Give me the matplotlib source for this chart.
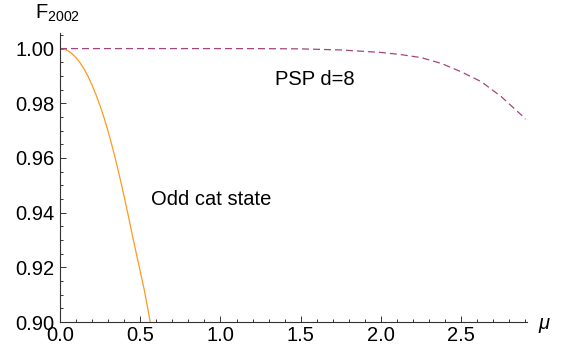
import matplotlib
matplotlib.use('Agg')
import matplotlib.pyplot as plt
from matplotlib.ticker import MultipleLocator, FormatStrFormatter

plt.rcParams['font.family'] = ['Liberation Sans', 'DejaVu Sans']
plt.rcParams['mathtext.fontset'] = 'custom'
plt.rcParams['mathtext.rm'] = 'Liberation Sans'
plt.rcParams['mathtext.it'] = 'Liberation Sans:italic'

# odd cat state fidelity
mu_cat = [0.0, 0.025, 0.05, 0.075, 0.1, 0.125, 0.15, 0.175, 0.2, 0.225, 0.25, 0.275, 0.3,
          0.325, 0.35, 0.375, 0.4, 0.425, 0.45, 0.475, 0.5, 0.525, 0.5625]
f_cat = [1.0, 0.9998, 0.9992, 0.9981, 0.9967, 0.9948, 0.9925, 0.9898, 0.9866, 0.9830,
         0.9790, 0.9746, 0.9697, 0.9643, 0.9585, 0.9523, 0.9458, 0.9390, 0.9320, 0.9252,
         0.9185, 0.9118, 0.90]

# PSP d=8 fidelity
mu_psp = [0.0, 0.5, 1.0, 1.25, 1.5, 1.75, 2.0, 2.125, 2.25, 2.375, 2.5, 2.625, 2.75, 2.875, 2.9]
f_psp = [1.0, 1.0, 1.0, 0.99998, 0.9999, 0.9995, 0.9986, 0.9978, 0.9967, 0.9946, 0.9915,
         0.9879, 0.9824, 0.9757, 0.9742]

W, H = 572, 354
fig = plt.figure(figsize=(W / 100, H / 100), dpi=100)
ax = fig.add_axes([60 / W, 32 / H, 467 / W, 289 / H])

ax.plot(mu_cat, f_cat, color='#ff9a1f', lw=0.9)
ax.plot(mu_psp, f_psp, color='#a0467f', lw=0.9, dashes=(5.6, 3.2))

ax.set_xlim(0, 2.91)
ax.set_ylim(0.9, 1.0057)

for s in ['top', 'right']:
    ax.spines[s].set_visible(False)
for s in ['left', 'bottom']:
    ax.spines[s].set_color('#333333')
    ax.spines[s].set_linewidth(0.8)

ax.xaxis.set_major_locator(MultipleLocator(0.5))
ax.xaxis.set_minor_locator(MultipleLocator(0.1))
ax.yaxis.set_major_locator(MultipleLocator(0.02))
ax.yaxis.set_minor_locator(MultipleLocator(0.005))
ax.xaxis.set_major_formatter(FormatStrFormatter('%.1f'))
ax.yaxis.set_major_formatter(FormatStrFormatter('%.2f'))

ax.tick_params(which='major', direction='in', length=4.5, width=0.7, color='#333333',
               labelsize=14.5, pad=3)
ax.tick_params(which='minor', direction='in', length=2.5, width=0.7, color='#333333')
ax.tick_params(axis='y', pad=4)

ax.text(1.589, 0.98666, 'PSP d=8', fontsize=14.5, ha='center', va='baseline')
ax.text(0.943, 0.94278, 'Odd cat state', fontsize=14.5, ha='center', va='baseline')

fig.text(35 / W, (H - 18.5) / H, r'$\mathregular{F_{2002}}$', fontsize=14.5,
         ha='left', va='baseline')
fig.text(538 / W, (H - 329) / H, 'μ', fontsize=14.5, style='italic',
         ha='left', va='baseline')

fig.savefig('out.png', dpi=100)
